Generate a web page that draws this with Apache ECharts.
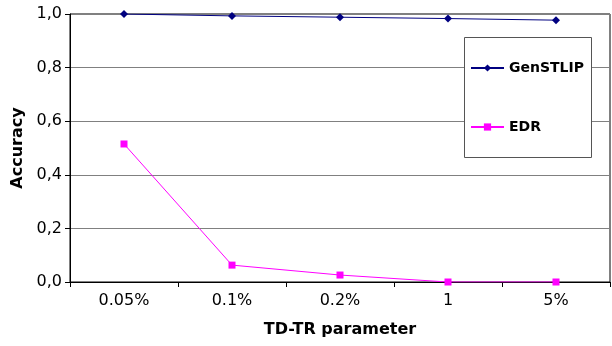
<!DOCTYPE html>
<html>
<head>
<meta charset="utf-8">
<script src="https://cdn.jsdelivr.net/npm/echarts@6/dist/echarts.min.js"></script>
<style>
	html, body { margin: 0; padding: 0; background: #fff; }
	#chart { width: 612px; height: 346px; }
</style>
</head>
<body>
<div id="chart"></div>
<script>
	// 横轴分类和两条曲线的数据
	var categories = ['0.05%', '0.1%', '0.2%', '1', '5%'];
	var genstlipData = [1.0, 0.993, 0.988, 0.983, 0.977];
	var edrData = [0.515, 0.063, 0.026, 0.0, 0.0];
	var yTicks = [0, 0.2, 0.4, 0.6, 0.8, 1.0];

	var chart = echarts.init(document.getElementById('chart'));
	var font = 'DejaVu Sans, sans-serif';

	var option = {
		animation: false,
		backgroundColor: '#fff',
		grid: {
			left: 70,
			right: 2,
			top: 14,
			bottom: 64,
			show: true,
			borderColor: '#000',
			borderWidth: 1
		},
		graphic: [{
			type: 'rect',
			left: 464,
			top: 37,
			shape: { width: 127, height: 120 },
			style: { fill: '#fff', stroke: '#555', lineWidth: 1 },
			z: 90
		}],
		legend: {
			orient: 'vertical',
			left: 465,
			top: 56,
			itemWidth: 33,
			itemHeight: 9,
			itemGap: 45,
			z: 100,
			textStyle: {
				fontFamily: font,
				fontSize: 14,
				fontWeight: 'bold',
				color: '#000'
			},
			data: ['GenSTLIP', 'EDR']
		},
		xAxis: {
			type: 'category',
			data: categories,
			boundaryGap: true,
			name: 'TD-TR parameter',
			nameLocation: 'middle',
			nameGap: 40,
			nameTextStyle: {
				fontFamily: font,
				fontSize: 16,
				fontWeight: 'bold',
				color: '#000'
			},
			axisLine: { lineStyle: { color: '#000', width: 1 } },
			axisTick: { show: true, length: 5, lineStyle: { color: '#000' } },
			axisLabel: {
				fontFamily: font,
				fontSize: 16,
				color: '#000',
				margin: 11
			},
			splitLine: { show: false }
		},
		yAxis: {
			type: 'value',
			min: yTicks[0],
			max: yTicks[yTicks.length - 1],
			interval: 0.2,
			name: 'Accuracy',
			nameLocation: 'middle',
			nameGap: 44,
			nameTextStyle: {
				fontFamily: font,
				fontSize: 16,
				fontWeight: 'bold',
				color: '#000'
			},
			axisLine: { show: true, lineStyle: { color: '#000', width: 1 } },
			axisTick: { show: true, length: 5, lineStyle: { color: '#000' } },
			axisLabel: {
				fontFamily: font,
				fontSize: 16,
				color: '#000',
				margin: 8,
				formatter: function (v) {
					return v.toFixed(1).replace('.', ',');
				}
			},
			splitLine: { show: true, lineStyle: { color: '#808080', width: 1 } }
		},
		series: [
			{
				name: 'GenSTLIP',
				type: 'line',
				data: genstlipData,
				symbol: 'diamond',
				symbolSize: 8,
				color: '#000080',
				lineStyle: { color: '#000080', width: 1 },
				itemStyle: { color: '#000080' }
			},
			{
				name: 'EDR',
				type: 'line',
				data: edrData,
				symbol: 'rect',
				symbolSize: 7,
				color: '#ff00ff',
				lineStyle: { color: '#ff00ff', width: 1 },
				itemStyle: { color: '#ff00ff' }
			}
		]
	};
	chart.setOption(option);
</script>
</body>
</html>
